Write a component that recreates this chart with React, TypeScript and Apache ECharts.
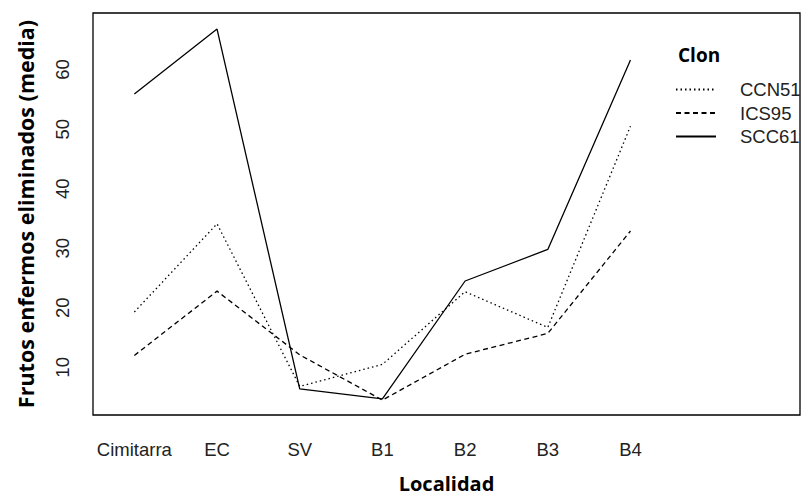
import React, { useEffect, useRef } from "react";
import * as echarts from "echarts";

const localidades = ["Cimitarra", "EC", "SV", "B1", "B2", "B3", "B4"];
const clones = ["CCN51", "ICS95", "SCC61"];
const ccn51 = [19.3, 34.1, 6.8, 10.5, 22.7, 16.7, 50.5];
const ics95 = [12.0, 22.8, 12.1, 4.5, 12.2, 15.7, 32.9];
const scc61 = [55.9, 66.8, 6.4, 4.7, 24.5, 29.8, 61.6];
const yTicks = [10, 20, 30, 40, 50, 60];

const toPoints = (vals: number[]) => vals.map((v, i) => [i + 1, v]);

export default function App() {
  const ref = useRef<HTMLDivElement>(null);
  useEffect(() => {
    document.body.style.margin = "0";
    if (!ref.current) return;
    const chart = echarts.init(ref.current, null, { renderer: "svg" });
    const tickFont = { fontFamily: "Liberation Sans", fontSize: 18.5, color: "#222" };
    const seriesStyles = [
      { type: [1.5, 3] as number[] },
      { type: [5, 3.5] as number[] },
      { type: "solid" as const },
    ];
    const datasets = [ccn51, ics95, scc61];
    chart.setOption({
      animation: false,
      backgroundColor: "#fff",
      grid: {
        left: 93,
        top: 13,
        right: 2,
        bottom: 81,
        show: true,
        borderColor: "#000",
        borderWidth: 1.3,
        backgroundColor: "transparent",
      },
      xAxis: {
        type: "value",
        min: 0.5,
        max: 9.05,
        splitLine: { show: false },
        axisLine: { show: false },
        axisTick: { show: false },
        axisLabel: {
          ...tickFont,
          margin: 25,
          customValues: localidades.map((_, i) => i + 1),
          formatter: (v: number) => localidades[Math.round(v) - 1] ?? "",
        },
        name: "Localidad",
        nameLocation: "middle",
        nameGap: 58,
        nameTextStyle: { fontFamily: "Open Sans", fontWeight: "bold", fontSize: 20, color: "#000" },
      },
      yAxis: {
        type: "value",
        min: 2,
        max: 69.5,
        splitLine: { show: false },
        axisLine: { show: false },
        axisTick: { show: false },
        axisLabel: {
          ...tickFont,
          rotate: 90,
          margin: 21,
          customValues: yTicks,
        },
        name: "Frutos enfermos eliminados (media)",
        nameLocation: "middle",
        nameRotate: 90,
        nameGap: 57,
        nameTextStyle: { fontFamily: "Open Sans", fontWeight: "bold", fontSize: 21.5, color: "#000" },
      },
      legend: {
        data: clones,
        orient: "vertical",
        left: 675,
        top: 80,
        padding: 0,
        itemWidth: 40,
        itemHeight: 18,
        itemGap: 4.5,
        selectedMode: false,
        itemStyle: { opacity: 0 },
        textStyle: { ...tickFont, color: "#222", padding: [0, 0, 0, 19] },
      },
      graphic: [
        {
          type: "text",
          left: 678,
          top: 45,
          style: { text: "Clon", font: "bold 19px 'Open Sans'", fill: "#000" },
        },
      ],
      series: clones.map((name, k) => ({
        name,
        type: "line",
        data: toPoints(datasets[k]),
        symbol: "none",
        color: "#000",
        lineStyle: { color: "#000", width: 1.3, type: seriesStyles[k].type },
      })),
    });
    return () => chart.dispose();
  }, []);
  return <div ref={ref} style={{ width: 802, height: 498 }} />;
}
